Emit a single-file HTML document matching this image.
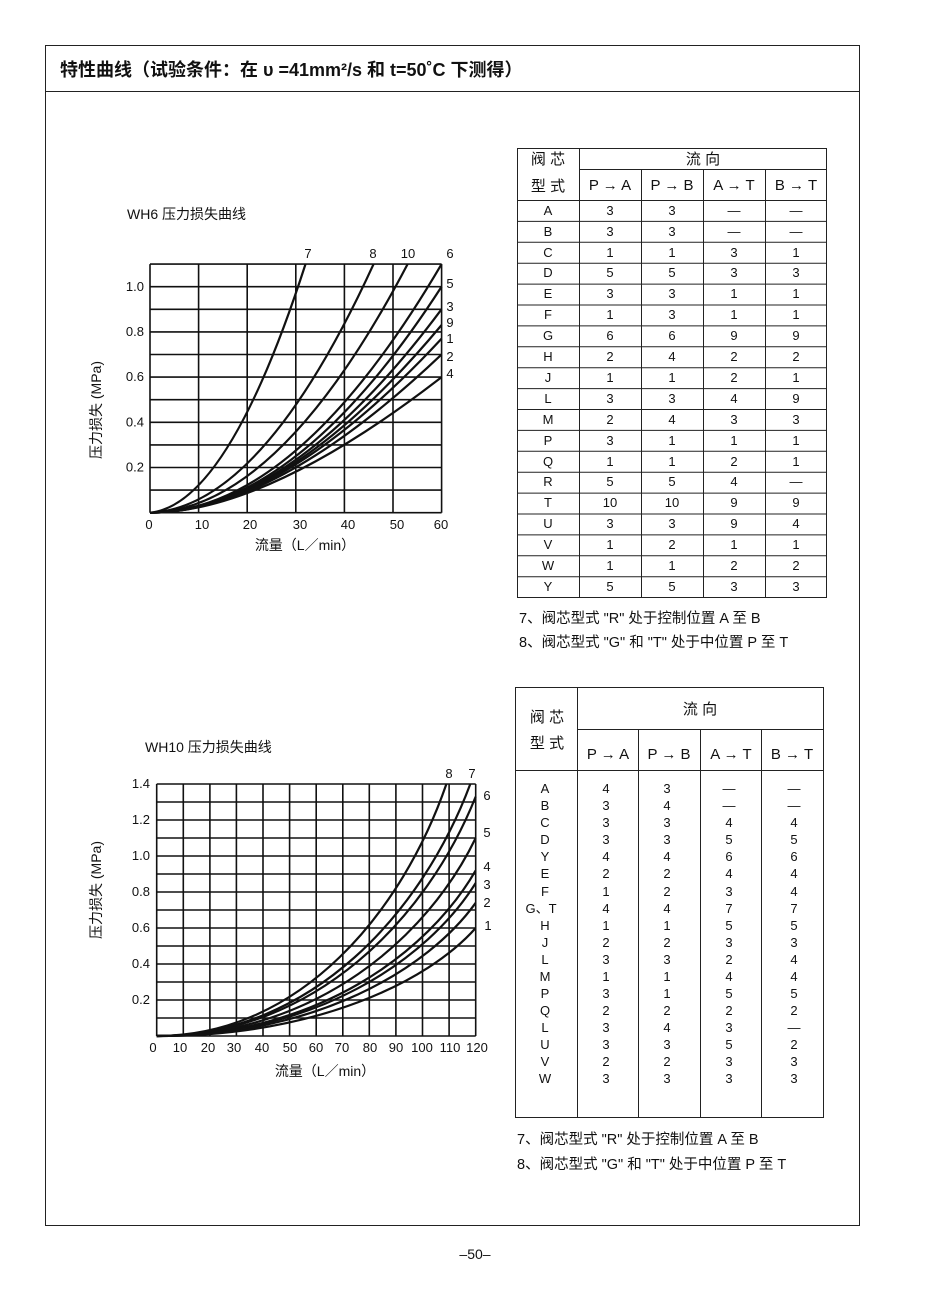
<!DOCTYPE html>
<html><head><meta charset="utf-8"><style>
html,body{margin:0;padding:0;background:#fff}
svg{display:block}
text{font-family:"Liberation Sans","Noto Sans CJK SC",sans-serif;fill:#111}
.g{stroke:#111;stroke-width:1.6;fill:none}
.c{stroke:#111;stroke-width:2.2;fill:none}
.t{stroke:#222;stroke-width:1;fill:none}
</style></head><body>
<svg width="950" height="1289" viewBox="0 0 950 1289">
<rect x="45.5" y="45.5" width="814" height="1180" class="t"/>
<line x1="45" y1="91.5" x2="859" y2="91.5" class="t"/>
<text x="60" y="76" font-size="18" font-weight="bold">特性曲线（试验条件：在 υ =41mm²/s 和 t=50˚C 下测得）</text>

<!-- Chart 1 -->
<text x="127" y="219" font-size="14">WH6 压力损失曲线</text>
<g class="g">
<path d="M150,264.1V512.7M198.6,264.1V512.7M247.2,264.1V512.7M295.8,264.1V512.7M344.4,264.1V512.7M393,264.1V512.7M441.6,264.1V512.7"/>
<path d="M150,512.7H441.6M150,490.1H441.6M150,467.5H441.6M150,444.9H441.6M150,422.3H441.6M150,399.7H441.6M150,377.1H441.6M150,354.5H441.6M150,331.9H441.6M150,309.3H441.6M150,286.7H441.6M150,264.1H441.6"/>
</g>
<g class="c">
<path d="M150,512.7Q227.8,505 305.5,264.1"/>
<path d="M150,512.7Q261.8,508 373.6,264.1"/>
<path d="M150,512.7Q278.8,510 407.6,264.1"/>
<path d="M150,512.7Q295.8,512.7 441.6,264.1"/>
<path d="M150,512.7Q295.8,512.7 441.6,286.6"/>
<path d="M150,512.7Q290,512.7 441.6,309.2"/>
<path d="M150,512.7Q285,512.7 441.6,325"/>
<path d="M150,512.7Q280,512.7 441.6,338.6"/>
<path d="M150,512.7Q275,512.7 441.6,354.4"/>
<path d="M150,512.7Q266.6,512.7 441.6,377.1"/>
</g>
<g font-size="13" text-anchor="end">
<text x="144" y="471.5">0.2</text><text x="144" y="426.5">0.4</text><text x="144" y="381">0.6</text><text x="144" y="336">0.8</text><text x="144" y="291">1.0</text>
</g>
<g font-size="13" text-anchor="middle">
<text x="149" y="529">0</text><text x="202" y="529">10</text><text x="250" y="529">20</text><text x="300" y="529">30</text><text x="348" y="529">40</text><text x="397" y="529">50</text><text x="441" y="529">60</text>
<text x="308" y="258">7</text><text x="373" y="258">8</text><text x="408" y="258">10</text><text x="450" y="258">6</text>
<text x="450" y="288">5</text><text x="450" y="311">3</text><text x="450" y="327">9</text><text x="450" y="343">1</text><text x="450" y="361">2</text><text x="450" y="378">4</text>
</g>
<text x="305" y="550" font-size="14" text-anchor="middle">流量（L／min）</text>
<text transform="translate(101,410) rotate(-90)" font-size="14" text-anchor="middle">压力损失 (MPa)</text>

<!-- Chart 2 -->
<text x="145" y="752" font-size="14">WH10 压力损失曲线</text>
<g class="g">
<path d="M156.7,784V1036M183.3,784V1036M209.9,784V1036M236.4,784V1036M263,784V1036M289.6,784V1036M316.2,784V1036M342.8,784V1036M369.3,784V1036M395.9,784V1036M422.5,784V1036M449.1,784V1036M475.7,784V1036"/>
<path d="M156.7,1036H475.7M156.7,1018H475.7M156.7,1000H475.7M156.7,982H475.7M156.7,964H475.7M156.7,946H475.7M156.7,928H475.7M156.7,910H475.7M156.7,892H475.7M156.7,874H475.7M156.7,856H475.7M156.7,838H475.7M156.7,820H475.7M156.7,802H475.7M156.7,784H475.7"/>
</g>
<g class="c">
<path d="M156.7,1036C301.6,1036 402.9,910 446.4,784"/>
<path d="M156.7,1036C313.5,1036 423.3,910 470.3,784"/>
<path d="M156.7,1036C316.2,1036 427.9,916.3 475.7,796.6"/>
<path d="M156.7,1036C316.2,1036 427.9,937 475.7,838"/>
<path d="M156.7,1036C316.2,1036 427.9,953.2 475.7,870.4"/>
<path d="M156.7,1036C316.2,1036 427.9,959.5 475.7,883"/>
<path d="M156.7,1036C316.2,1036 427.9,969.4 475.7,902.8"/>
<path d="M156.7,1036C316.2,1036 427.9,982 475.7,928"/>
</g>
<g font-size="13" text-anchor="end">
<text x="150" y="1004">0.2</text><text x="150" y="968">0.4</text><text x="150" y="932">0.6</text><text x="150" y="896">0.8</text><text x="150" y="860">1.0</text><text x="150" y="824">1.2</text><text x="150" y="788">1.4</text>
</g>
<g font-size="13" text-anchor="middle">
<text x="153" y="1052">0</text><text x="180" y="1052">10</text><text x="208" y="1052">20</text><text x="234" y="1052">30</text><text x="262" y="1052">40</text><text x="290" y="1052">50</text><text x="316" y="1052">60</text><text x="342" y="1052">70</text><text x="370" y="1052">80</text><text x="396" y="1052">90</text><text x="422" y="1052">100</text><text x="450" y="1052">110</text><text x="477" y="1052">120</text>
<text x="449" y="778">8</text><text x="472" y="778">7</text><text x="487" y="800">6</text><text x="487" y="837">5</text><text x="487" y="871">4</text><text x="487" y="889">3</text><text x="487" y="907">2</text><text x="488" y="930">1</text>
</g>
<text x="325" y="1076" font-size="14" text-anchor="middle">流量（L／min）</text>
<text transform="translate(101,890) rotate(-90)" font-size="14" text-anchor="middle">压力损失 (MPa)</text>

<!-- Table 1 -->
<g class="t">
<rect x="517.5" y="148.5" width="309" height="449"/>
<path d="M579.5,148V597M641.5,169V597M703.5,169V597M765.5,169V597M579,169.5H827M517,200.5H827"/>
<path d="M517,221.4H827M517,242.3H827M517,263.2H827M517,284.1H827M517,305H827M517,325.9H827M517,346.8H827M517,367.7H827M517,388.6H827M517,409.5H827M517,430.4H827M517,451.3H827M517,472.2H827M517,493.1H827M517,514H827M517,534.9H827M517,555.8H827M517,576.7H827"/>
</g>
<g font-size="15" text-anchor="middle">
<text x="548" y="164">阀  芯</text><text x="548" y="191">型  式</text><text x="703" y="164">流 向</text>
<text x="610" y="190">P → A</text><text x="672" y="190">P → B</text><text x="734" y="190">A → T</text><text x="796" y="190">B → T</text>
</g>
<g font-size="13" text-anchor="middle">
<text y="215"><tspan x="548">A</tspan><tspan x="610">3</tspan><tspan x="672">3</tspan><tspan x="734">—</tspan><tspan x="796">—</tspan></text>
<text y="236"><tspan x="548">B</tspan><tspan x="610">3</tspan><tspan x="672">3</tspan><tspan x="734">—</tspan><tspan x="796">—</tspan></text>
<text y="257"><tspan x="548">C</tspan><tspan x="610">1</tspan><tspan x="672">1</tspan><tspan x="734">3</tspan><tspan x="796">1</tspan></text>
<text y="277"><tspan x="548">D</tspan><tspan x="610">5</tspan><tspan x="672">5</tspan><tspan x="734">3</tspan><tspan x="796">3</tspan></text>
<text y="298"><tspan x="548">E</tspan><tspan x="610">3</tspan><tspan x="672">3</tspan><tspan x="734">1</tspan><tspan x="796">1</tspan></text>
<text y="319"><tspan x="548">F</tspan><tspan x="610">1</tspan><tspan x="672">3</tspan><tspan x="734">1</tspan><tspan x="796">1</tspan></text>
<text y="340"><tspan x="548">G</tspan><tspan x="610">6</tspan><tspan x="672">6</tspan><tspan x="734">9</tspan><tspan x="796">9</tspan></text>
<text y="361"><tspan x="548">H</tspan><tspan x="610">2</tspan><tspan x="672">4</tspan><tspan x="734">2</tspan><tspan x="796">2</tspan></text>
<text y="382"><tspan x="548">J</tspan><tspan x="610">1</tspan><tspan x="672">1</tspan><tspan x="734">2</tspan><tspan x="796">1</tspan></text>
<text y="403"><tspan x="548">L</tspan><tspan x="610">3</tspan><tspan x="672">3</tspan><tspan x="734">4</tspan><tspan x="796">9</tspan></text>
<text y="424"><tspan x="548">M</tspan><tspan x="610">2</tspan><tspan x="672">4</tspan><tspan x="734">3</tspan><tspan x="796">3</tspan></text>
<text y="445"><tspan x="548">P</tspan><tspan x="610">3</tspan><tspan x="672">1</tspan><tspan x="734">1</tspan><tspan x="796">1</tspan></text>
<text y="466"><tspan x="548">Q</tspan><tspan x="610">1</tspan><tspan x="672">1</tspan><tspan x="734">2</tspan><tspan x="796">1</tspan></text>
<text y="486"><tspan x="548">R</tspan><tspan x="610">5</tspan><tspan x="672">5</tspan><tspan x="734">4</tspan><tspan x="796">—</tspan></text>
<text y="507"><tspan x="548">T</tspan><tspan x="610">10</tspan><tspan x="672">10</tspan><tspan x="734">9</tspan><tspan x="796">9</tspan></text>
<text y="528"><tspan x="548">U</tspan><tspan x="610">3</tspan><tspan x="672">3</tspan><tspan x="734">9</tspan><tspan x="796">4</tspan></text>
<text y="549"><tspan x="548">V</tspan><tspan x="610">1</tspan><tspan x="672">2</tspan><tspan x="734">1</tspan><tspan x="796">1</tspan></text>
<text y="570"><tspan x="548">W</tspan><tspan x="610">1</tspan><tspan x="672">1</tspan><tspan x="734">2</tspan><tspan x="796">2</tspan></text>
<text y="591"><tspan x="548">Y</tspan><tspan x="610">5</tspan><tspan x="672">5</tspan><tspan x="734">3</tspan><tspan x="796">3</tspan></text>
</g>
<text x="519" y="623" font-size="14.5">7、阀芯型式 "R" 处于控制位置 A 至 B</text>
<text x="519" y="647" font-size="14.5">8、阀芯型式 "G" 和 "T" 处于中位置 P 至 T</text>

<!-- Table 2 -->
<g class="t">
<rect x="515.5" y="687.5" width="308" height="430"/>
<path d="M577.5,687V1117M638.5,729V1117M700.5,729V1117M761.5,729V1117M577,729.5H823M515,770.5H823"/>
</g>
<g font-size="15" text-anchor="middle">
<text x="547" y="722">阀  芯</text><text x="547" y="748">型  式</text><text x="700" y="714">流 向</text>
<text x="608" y="759">P → A</text><text x="669" y="759">P → B</text><text x="731" y="759">A → T</text><text x="792" y="759">B → T</text>
</g>
<g font-size="13" text-anchor="middle">
<text y="793"><tspan x="545">A</tspan><tspan x="606">4</tspan><tspan x="667">3</tspan><tspan x="729">—</tspan><tspan x="794">—</tspan></text>
<text y="810"><tspan x="545">B</tspan><tspan x="606">3</tspan><tspan x="667">4</tspan><tspan x="729">—</tspan><tspan x="794">—</tspan></text>
<text y="827"><tspan x="545">C</tspan><tspan x="606">3</tspan><tspan x="667">3</tspan><tspan x="729">4</tspan><tspan x="794">4</tspan></text>
<text y="844"><tspan x="545">D</tspan><tspan x="606">3</tspan><tspan x="667">3</tspan><tspan x="729">5</tspan><tspan x="794">5</tspan></text>
<text y="861"><tspan x="545">Y</tspan><tspan x="606">4</tspan><tspan x="667">4</tspan><tspan x="729">6</tspan><tspan x="794">6</tspan></text>
<text y="878"><tspan x="545">E</tspan><tspan x="606">2</tspan><tspan x="667">2</tspan><tspan x="729">4</tspan><tspan x="794">4</tspan></text>
<text y="896"><tspan x="545">F</tspan><tspan x="606">1</tspan><tspan x="667">2</tspan><tspan x="729">3</tspan><tspan x="794">4</tspan></text>
<text y="913"><tspan x="541">G、T</tspan><tspan x="606">4</tspan><tspan x="667">4</tspan><tspan x="729">7</tspan><tspan x="794">7</tspan></text>
<text y="930"><tspan x="545">H</tspan><tspan x="606">1</tspan><tspan x="667">1</tspan><tspan x="729">5</tspan><tspan x="794">5</tspan></text>
<text y="947"><tspan x="545">J</tspan><tspan x="606">2</tspan><tspan x="667">2</tspan><tspan x="729">3</tspan><tspan x="794">3</tspan></text>
<text y="964"><tspan x="545">L</tspan><tspan x="606">3</tspan><tspan x="667">3</tspan><tspan x="729">2</tspan><tspan x="794">4</tspan></text>
<text y="981"><tspan x="545">M</tspan><tspan x="606">1</tspan><tspan x="667">1</tspan><tspan x="729">4</tspan><tspan x="794">4</tspan></text>
<text y="998"><tspan x="545">P</tspan><tspan x="606">3</tspan><tspan x="667">1</tspan><tspan x="729">5</tspan><tspan x="794">5</tspan></text>
<text y="1015"><tspan x="545">Q</tspan><tspan x="606">2</tspan><tspan x="667">2</tspan><tspan x="729">2</tspan><tspan x="794">2</tspan></text>
<text y="1032"><tspan x="545">L</tspan><tspan x="606">3</tspan><tspan x="667">4</tspan><tspan x="729">3</tspan><tspan x="794">—</tspan></text>
<text y="1049"><tspan x="545">U</tspan><tspan x="606">3</tspan><tspan x="667">3</tspan><tspan x="729">5</tspan><tspan x="794">2</tspan></text>
<text y="1066"><tspan x="545">V</tspan><tspan x="606">2</tspan><tspan x="667">2</tspan><tspan x="729">3</tspan><tspan x="794">3</tspan></text>
<text y="1083"><tspan x="545">W</tspan><tspan x="606">3</tspan><tspan x="667">3</tspan><tspan x="729">3</tspan><tspan x="794">3</tspan></text>
</g>
<text x="517" y="1144" font-size="14.5">7、阀芯型式 "R" 处于控制位置 A 至 B</text>
<text x="517" y="1169" font-size="14.5">8、阀芯型式 "G" 和 "T" 处于中位置 P 至 T</text>

<text x="475" y="1259" font-size="14" text-anchor="middle">–50–</text>
</svg>
</body></html>
